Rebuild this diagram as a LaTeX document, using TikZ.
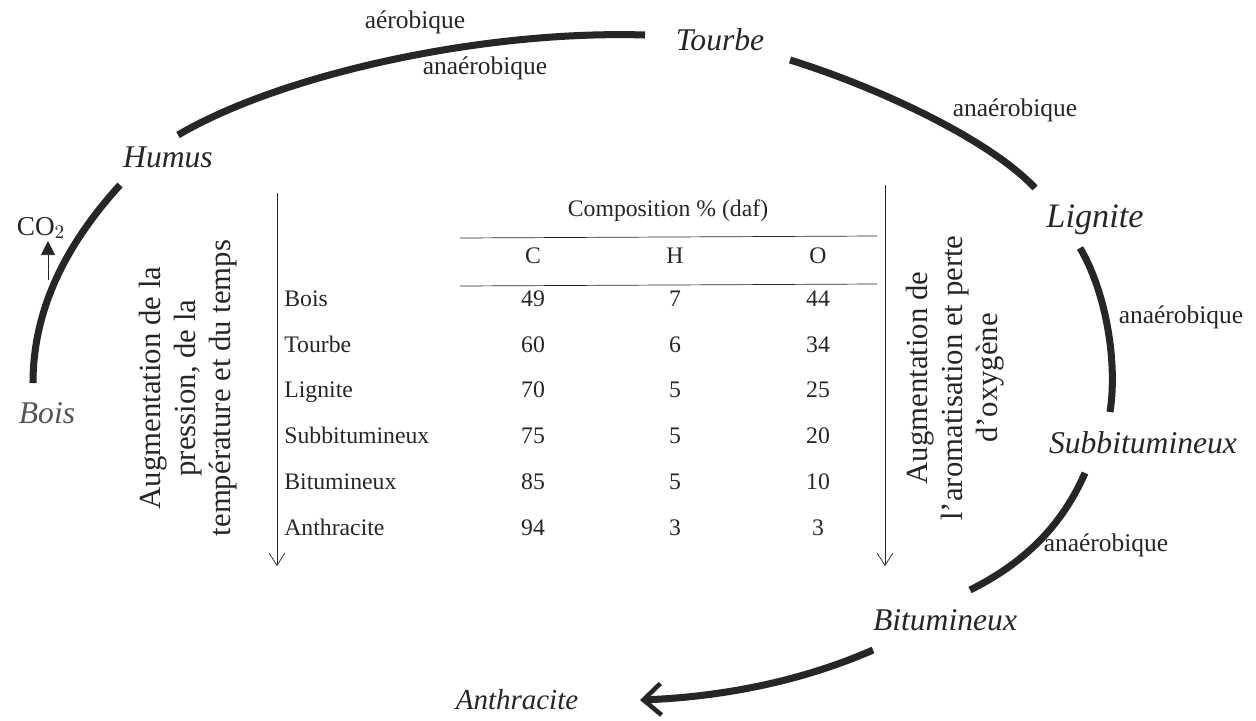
\documentclass[tikz,border=0pt]{standalone}
\usepackage{fontspec}
\setmainfont{Liberation Serif}
\usepackage{tikz}
\usetikzlibrary{arrows.meta,positioning}
\definecolor{ink}{RGB}{38,38,38}
\definecolor{grisbois}{RGB}{85,85,85}
\tikzset{>=stealth,
  arc/.style={line width=4pt,ink},
  fleche/.style={thin,ink,-{Straight Barb[length=7pt,width=9pt]}},
  etape/.style={font=\fontsize{18}{20}\selectfont\itshape,text=ink,inner sep=1pt},
  cond/.style={font=\fontsize{14.5}{16}\selectfont,text=ink,inner sep=1pt},
  tab/.style={font=\fontsize{13.5}{15}\selectfont,text=ink,inner sep=0pt,text height=9pt,text depth=3pt},
  rot/.style={font=\fontsize{17.5}{20}\selectfont,text=ink,rotate=90,align=center,inner sep=0pt}}

\begin{document}
\begin{tikzpicture}[x=0.02cm,y=-0.02cm]
\useasboundingbox (0,0) rectangle (1256,720);
\node[etape,text=grisbois] (bois) at (47,413) {Bois};
\node[etape] (humus) at (168,157) {Humus};
\node[etape] (tourbe) at (720,40) {Tourbe};
\node[etape,font=\fontsize{19.5}{20}\selectfont\itshape] (lignite) at (1095,220) {Lignite};
\node[etape] (subbit) at (1143,443) {Subbitumineux};
\node[etape] (bitum) at (945,620) {Bitumineux};
\node[etape,font=\fontsize{16.5}{20}\selectfont\itshape] (anthra) at (517,700) {Anthracite};
\node[cond] (aero) at (415,22) {aérobique};
\node[cond] (anaero1) at (485,68) {anaérobique};
\node[cond] (anaero2) at (1015,110) {anaérobique};
\node[cond] (anaero3) at (1181,317) {anaérobique};
\node[cond] (anaero4) at (1106,545) {anaérobique};
\node[cond,font=\fontsize{15.5}{16}\selectfont] (co2) at (41,228) {CO$_2$};
\coordinate (b1) at (33,383);
\coordinate (b2) at (120,185);
\coordinate (h1) at (178,135);
\coordinate (h2) at (645,35);
\coordinate (t1) at (790,60);
\coordinate (t2) at (1035,188);
\coordinate (l1) at (1080,248);
\coordinate (l2) at (1110,412);
\coordinate (s1) at (1085,473);
\coordinate (s2) at (970,590);
\coordinate (u1) at (873,650);
\coordinate (u2) at (640,700);
\coordinate (c1) at (48,280);
\draw[arc] (b1) .. controls (33,305) and (70,240) .. (b2);
\draw[arc] (h1) .. controls (280,75) and (480,30) .. (h2);
\draw[arc] (t1) .. controls (880,88) and (990,140) .. (t2);
\draw[arc] (l1) .. controls (1105,290) and (1118,360) .. (l2);
\draw[arc] (s1) .. controls (1060,530) and (1020,565) .. (s2);
\draw[arc,-{Straight Barb[length=10pt,width=18pt,line width=2.6pt]}] (u1) .. controls (800,682) and (720,697) .. (u2);
\draw[thin,ink,-{Triangle[length=8pt,width=8pt]}] (c1) -- (co2.south -| c1);
\coordinate (fg1) at (277,193);
\coordinate (fg2) at (277,566);
\coordinate (fd1) at (885,185);
\coordinate (fd2) at (885,566);
\draw[fleche] (fg1) -- (fg2);
\draw[fleche] (fd1) -- (fd2);
\node[rot] (txtg) at (188,388) {Augmentation de la\\pression, de la\\température et du temps};
\node[rot] (txtd) at (955,378) {Augmentation de\\l'aromatisation et perte\\d'oxygène};
\node[tab] (compo) at (668,211) {Composition \% (daf)};
\coordinate (hg1) at (460,238);
\coordinate (hd1) at (877,236);
\coordinate (hg2) at (460,286);
\coordinate (hd2) at (877,284);
\draw[thin,ink] (hg1) -- (hd1);
\draw[thin,ink] (hg2) -- (hd2);
\node[tab] (colc) at (533,258) {C};
\node[tab] (colh) at (675,258) {H};
\node[tab] (colo) at (818,258) {O};
\foreach \nom/\c/\h/\o [count=\i] in {Bois/49/7/44,Tourbe/60/6/34,Lignite/70/5/25,Subbitumineux/75/5/20,Bitumineux/85/5/10,Anthracite/94/3/3}{
  \node[tab,anchor=west] (nom\i) at (284,{301+45.8*(\i-1)}) {\nom};
  \node[tab] (c\i) at (colc |- nom\i) {\c};
  \node[tab] (h\i) at (colh |- nom\i) {\h};
  \node[tab] (o\i) at (colo |- nom\i) {\o};
}
\end{tikzpicture}
\end{document}
